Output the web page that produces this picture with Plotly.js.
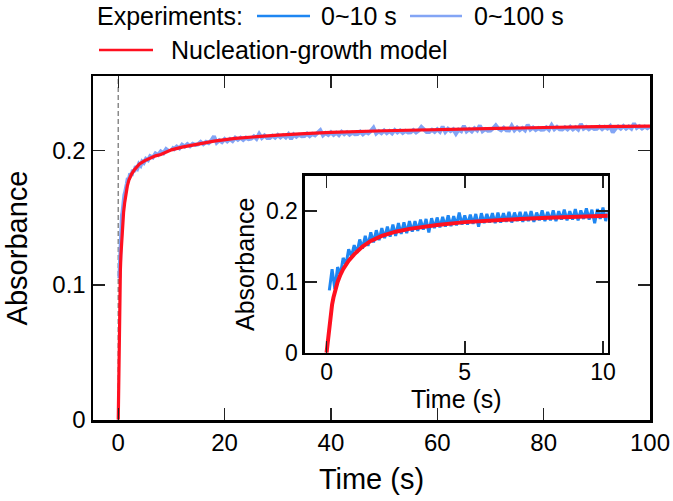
<!DOCTYPE html>
<html><head><meta charset="utf-8">
<script src="https://cdn.plot.ly/plotly-3.0.1.min.js"></script>
<style>html,body{margin:0;padding:0;background:#fff}#chart{width:673px;height:501px}</style>
</head><body><div id="chart"></div>
<script>
// ---- Main panel: experiment 0~100 s (early part, irregular sampling) ----
const tEarly100 = [0.2,0.3,0.4,0.5,0.6,0.7,0.8,0.9,1.0,1.15,1.3,1.45,1.6,1.8,2.0,2.25,2.5,2.75,3.0,3.3,3.6,3.9,4.2,4.5,4.8,5.2,5.6,6.0,6.5,7.0,7.5,8.0,8.5,9.0,9.5];
const absEarly100 = [0.105,0.120,0.129,0.140,0.144,0.152,0.154,0.160,0.161,0.167,0.169,0.175,0.175,0.1795,0.1785,0.1830,0.1812,0.1855,0.1842,0.1882,0.1868,0.1900,0.1888,0.1918,0.1908,0.1938,0.1928,0.1958,0.1948,0.1978,0.1967,0.1993,0.1980,0.2010,0.1995];
// ---- Main panel: experiment 0~100 s (t = 10 ... 100 s, every 0.5 s) ----
const tLate100Start = 10, tLate100Step = 0.5;
const absLate100 = [
0.2025,0.2010,0.2029,0.2016,0.2043,0.2030,0.2047,0.2032,0.2050,0.2042,
0.2046,0.2064,0.2047,0.2064,0.2055,0.2074,0.2105,0.2058,0.2076,0.2063,
0.2085,0.2068,0.2085,0.2070,0.2095,0.2080,0.2095,0.2079,0.2095,0.2085,
0.2088,0.2105,0.2087,0.2123,0.2093,0.2111,0.2093,0.2093,0.2110,0.2096,
0.2115,0.2097,0.2113,0.2097,0.2121,0.2085,0.2119,0.2102,0.2117,0.2106,
0.2108,0.2125,0.2107,0.2123,0.2113,0.2131,0.2151,0.2113,0.2130,0.2116,
0.2135,0.2116,0.2132,0.2115,0.2139,0.2122,0.2136,0.2118,0.2133,0.2121,
0.2123,0.2140,0.2121,0.2137,0.2127,0.2145,0.2169,0.2126,0.2143,0.2129,
0.2148,0.2129,0.2145,0.2128,0.2152,0.2135,0.2149,0.2131,0.2146,0.2134,
0.2136,0.2152,0.2134,0.2149,0.2175,0.2156,0.2138,0.2137,0.2154,0.2139,
0.2158,0.2139,0.2177,0.2138,0.2161,0.2145,0.2158,0.2125,0.2155,0.2143,
0.2182,0.2143,0.2159,0.2142,0.2165,0.2149,0.2186,0.2144,0.2159,0.2147,
0.2149,0.2165,0.2187,0.2162,0.2151,0.2169,0.2150,0.2149,0.2184,0.2151,
0.2170,0.2151,0.2167,0.2150,0.2191,0.2156,0.2170,0.2152,0.2166,0.2154,
0.2156,0.2172,0.2154,0.2189,0.2158,0.2175,0.2157,0.2156,0.2172,0.2157,
0.2176,0.2157,0.2172,0.2156,0.2197,0.2162,0.2175,0.2158,0.2172,0.2160,
0.2162,0.2178,0.2159,0.2175,0.2164,0.2181,0.2135,0.2162,0.2178,0.2163,
0.2182,0.2163,0.2178,0.2162,0.2201,0.2168,0.2181,0.2164,0.2178,0.2166,
0.2180];
// ---- Main panel: nucleation-growth model ----
const tModel100 = [0,0.05,0.1,0.15,0.2,0.3,0.4,0.5,0.6,0.7,0.85,1.0,1.2,1.4,1.7,2.0,2.5,3.0,3.5,4,5,6,7,8,10,12,15,18,22,26,30,35,40,50,60,70,80,90,100];
const absModel100 = [0,0.018,0.038,0.058,0.076,0.097,0.111,0.122,0.130,0.137,0.146,0.154,0.161,0.167,0.1735,0.178,0.1825,0.1855,0.188,0.190,0.1925,0.1945,0.196,0.197,0.2005,0.2025,0.205,0.207,0.209,0.2105,0.2115,0.2125,0.2135,0.2147,0.2157,0.2165,0.2171,0.2177,0.2182];

// ---- Inset: experiment 0~10 s (t = 0.1 ... 10.2 s, every 0.1 s) ----
const tInsetStart = 0.1, tInsetStep = 0.1;
const absInset10 = [
0.088,0.118,0.090,0.121,0.110,0.134,0.124,0.146,0.136,0.152,
0.141,0.160,0.147,0.165,0.151,0.170,0.156,0.173,0.159,0.176,
0.162,0.178,0.164,0.181,0.165,0.183,0.168,0.184,0.169,0.186,
0.171,0.186,0.172,0.188,0.174,0.189,0.170,0.190,0.176,0.191,
0.177,0.192,0.178,0.194,0.179,0.193,0.180,0.198,0.181,0.194,
0.181,0.195,0.182,0.196,0.178,0.197,0.183,0.196,0.184,0.197,
0.183,0.198,0.184,0.197,0.185,0.199,0.184,0.198,0.186,0.199,
0.185,0.199,0.186,0.200,0.185,0.198,0.187,0.201,0.186,0.199,
0.187,0.201,0.186,0.200,0.188,0.202,0.187,0.200,0.188,0.203,
0.187,0.201,0.189,0.204,0.188,0.202,0.183,0.203,0.189,0.205,
0.186,0.200];
// ---- Inset: model ----
const tModel10 = [0,0.03,0.06,0.1,0.15,0.2,0.25,0.3,0.4,0.5,0.6,0.8,1.0,1.3,1.6,2.0,2.5,3.0,3.5,4,5,6,7,8,9,10,10.2];
const absModel10 = [0,0.012,0.025,0.040,0.056,0.068,0.078,0.087,0.100,0.110,0.118,0.130,0.139,0.150,0.158,0.165,0.171,0.175,0.178,0.1805,0.1845,0.187,0.189,0.1905,0.192,0.193,0.1935];

// ---- Axis ticks and legend labels ----
const mainXTicks = [0,20,40,60,80,100];
const mainYTicks = [0,0.1,0.2];
const mainYTickText = ['0','0.1','0.2'];
const insetXTicks = [0,5,10];
const insetYTicks = [0,0.1,0.2];
const insetYTickText = ['0','0.1','0.2'];
const startTime = 0;
const legendTitle = 'Experiments:';
const seriesNames = ['0~10 s','0~100 s','Nucleation-growth model'];

const C10 = '#1e86f2', C100 = '#83a5f5', CRED = '#ff1020';
const FONT = 'Liberation Sans, Arial, Helvetica, sans-serif';

const traces = [
  {type:'scatter', mode:'lines', name:seriesNames[0], x0:tInsetStart, dx:tInsetStep, y:absInset10,
   xaxis:'x2', yaxis:'y2', line:{color:C10, width:3}},
  {type:'scatter', mode:'lines', name:seriesNames[1], x:tEarly100, y:absEarly100,
   xaxis:'x', yaxis:'y', line:{color:C100, width:4}},
  {type:'scatter', mode:'lines', name:seriesNames[1], x0:tLate100Start, dx:tLate100Step, y:absLate100,
   xaxis:'x', yaxis:'y', line:{color:C100, width:4}},
  {type:'scatter', mode:'lines', name:seriesNames[2], x:tModel100, y:absModel100,
   xaxis:'x', yaxis:'y', line:{color:CRED, width:3.2}},
  {type:'scatter', mode:'lines', name:seriesNames[2], x:tModel10, y:absModel10,
   xaxis:'x2', yaxis:'y2', line:{color:CRED, width:4}}
];

const axBase = {showline:true, linewidth:2.5, linecolor:'#000', mirror:'ticks', ticks:'inside', ticklen:12, tickwidth:1.5,
  tickcolor:'#222', showgrid:false, zeroline:false, tickfont:{size:24, color:'#000'}};

// legend geometry (paper coords): plot area is 557 x 344 px starting at (93, 76)
const px = v => (v - 93) / 557;
const py = v => (420 - v) / 344;
const row1 = py(16), row2 = py(50);

const legendShapes = [
  {type:'line', xref:'paper', yref:'paper', x0:px(257), x1:px(310), y0:row1, y1:row1, line:{color:C10, width:2.5}},
  {type:'line', xref:'paper', yref:'paper', x0:px(410), x1:px(462), y0:row1, y1:row1, line:{color:C100, width:2.5}},
  {type:'line', xref:'paper', yref:'paper', x0:px(99), x1:px(153), y0:row2, y1:row2, line:{color:CRED, width:2.5}}
];
const legendText = [
  {text:legendTitle, x:px(96), y:row1},
  {text:seriesNames[0], x:px(320), y:row1},
  {text:seriesNames[1], x:px(473), y:row1},
  {text:seriesNames[2], x:px(170), y:row2}
].map(a => Object.assign(a, {xref:'paper', yref:'paper', xanchor:'left', yanchor:'middle', showarrow:false,
  font:{size:25, color:'#000'}, borderpad:0}));

const layout = {
  width:673, height:501, margin:{l:93, r:23, t:76, b:81},
  paper_bgcolor:'#fff', plot_bgcolor:'#fff',
  font:{family:FONT, color:'#000'},
  showlegend:false,
  xaxis:Object.assign({}, axBase, {domain:[0,1], anchor:'y', range:[-4.75,100], tickvals:mainXTicks,
    title:{text:'Time (s)', font:{size:29}, standoff:14}}),
  yaxis:Object.assign({}, axBase, {domain:[0,1], anchor:'x', range:[-0.0004,0.2554], tickvals:mainYTicks, ticktext:mainYTickText,
    title:{text:'Absorbance', font:{size:29}, standoff:16}}),
  xaxis2:Object.assign({}, axBase, {domain:[0.3806,0.924], anchor:'y2', range:[-0.78,10.17], tickvals:insetXTicks,
    tickfont:{size:23, color:'#000'}, ticklabelstandoff:-3, title:{text:'Time (s)', font:{size:25}, standoff:0}}),
  yaxis2:Object.assign({}, axBase, {domain:[0.1956,0.710], anchor:'x2', range:[0,0.25], tickvals:insetYTicks, ticktext:insetYTickText,
    tickfont:{size:23, color:'#000'}, title:{text:'Absorbance', font:{size:25}, standoff:4}}),
  shapes:[
    {type:'line', layer:'below', xref:'x', yref:'y domain', x0:startTime, x1:startTime, y0:0, y1:1,
     line:{color:'#8a8a8a', width:1.5, dash:'5px,3px'}},
    {type:'line', layer:'below', xref:'x2', yref:'y2 domain', x0:startTime, x1:startTime, y0:0, y1:1,
     line:{color:'#333', width:1, dash:'3px,2px'}}
  ].concat(legendShapes),
  annotations:legendText
};

Plotly.newPlot('chart', traces, layout, {staticPlot:true, displayModeBar:false});
</script></body></html>
